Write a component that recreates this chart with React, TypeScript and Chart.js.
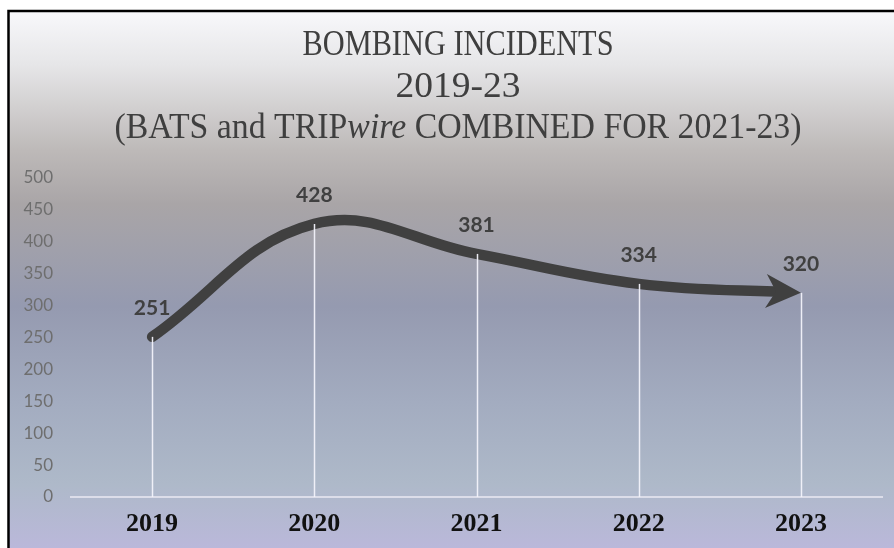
import React, { useEffect, useRef } from 'react';
import { Chart, registerables } from 'chart.js';

Chart.register(...registerables);

// ---- data ----
const categories: string[] = ['2019', '2020', '2021', '2022', '2023'];
const incidents: number[] = [251, 428, 381, 334, 320];
const yMin = 0;
const yMax = 500;
const yStep = 50;
const titleLine1 = 'BOMBING INCIDENTS';
const titleLine2 = '2019-23';
const titleLine3Parts: { text: string; italic: boolean }[] = [
  { text: '(BATS and TRIP', italic: false },
  { text: 'wire', italic: true },
  { text: ' COMBINED FOR 2021-23)', italic: false },
];

// ---- styles ----
const LINE_COLOR = '#404040';
const TITLE_COLOR = '#3f3f3f';
const TITLE_FONT_PX = 35;
const TITLE_FAMILY = '"Liberation Serif", serif';
const TITLE_CENTER_X = 458;
const TITLE_WIDTHS = [311, 125, 687];
const TITLE_BASELINES = [55, 96.5, 138];

const backgroundPlugin = {
  id: 'bgFrame',
  beforeDraw(chart: any) {
    const { ctx, width, height } = chart;
    ctx.save();
    ctx.fillStyle = '#ffffff';
    ctx.fillRect(0, 0, width, height);
    const g = ctx.createLinearGradient(0, 11, 0, height);
    g.addColorStop(0, '#f8f8fb');
    g.addColorStop(0.1, '#e6e6e8');
    g.addColorStop(0.26, '#bdb9b8');
    g.addColorStop(0.36, '#a9a5a7');
    g.addColorStop(0.55, '#959ab0');
    g.addColorStop(0.73, '#a3acc0');
    g.addColorStop(0.88, '#aeb9c9');
    g.addColorStop(1, '#bab8da');
    ctx.fillStyle = g;
    ctx.fillRect(8, 11, width - 8, height - 11);
    ctx.strokeStyle = '#000000';
    ctx.lineWidth = 2.5;
    ctx.beginPath();
    ctx.moveTo(8.5, height);
    ctx.lineTo(8.5, 11);
    ctx.lineTo(width, 11);
    ctx.stroke();
    ctx.restore();
  },
};

const titlePlugin = {
  id: 'richTitle',
  afterDraw(chart: any) {
    const { ctx } = chart;
    ctx.save();
    ctx.fillStyle = TITLE_COLOR;
    ctx.textBaseline = 'alphabetic';
    ctx.textAlign = 'left';
    const normalFont = `${TITLE_FONT_PX}px ${TITLE_FAMILY}`;
    const italicFont = `italic ${TITLE_FONT_PX}px ${TITLE_FAMILY}`;

    const drawCentered = (text: string, baseline: number, target: number) => {
      ctx.font = normalFont;
      const w = ctx.measureText(text).width;
      ctx.save();
      ctx.translate(TITLE_CENTER_X, baseline);
      ctx.scale(target / w, 1);
      ctx.fillText(text, -w / 2, 0);
      ctx.restore();
    };
    drawCentered(titleLine1, TITLE_BASELINES[0], TITLE_WIDTHS[0]);
    drawCentered(titleLine2, TITLE_BASELINES[1], TITLE_WIDTHS[1]);

    const widths = titleLine3Parts.map((p) => {
      ctx.font = p.italic ? italicFont : normalFont;
      return ctx.measureText(p.text).width;
    });
    const total = widths.reduce((a, b) => a + b, 0);
    ctx.save();
    ctx.translate(TITLE_CENTER_X, TITLE_BASELINES[2]);
    ctx.scale(TITLE_WIDTHS[2] / total, 1);
    let x = -total / 2;
    titleLine3Parts.forEach((p, i) => {
      ctx.font = p.italic ? italicFont : normalFont;
      ctx.fillText(p.text, x, 0);
      x += widths[i];
    });
    ctx.restore();
    ctx.restore();
  },
};

function arrowGeom(chart: any) {
  const meta = chart.getDatasetMeta(0);
  const pts = meta.data;
  const last = pts[pts.length - 1];
  const tipX = last.x;
  const tipY = last.y;
  let dx = tipX - (last.cp1x ?? pts[pts.length - 2].x);
  let dy = tipY - (last.cp1y ?? pts[pts.length - 2].y);
  const len = Math.hypot(dx, dy) || 1;
  dx /= len;
  dy /= len;
  return { tipX, tipY, dx, dy };
}

const overlayPlugin = {
  id: 'overlay',
  beforeDatasetDraw(chart: any) {
    const { ctx, width, height } = chart;
    const { tipX, tipY } = arrowGeom(chart);
    ctx.save();
    ctx.beginPath();
    ctx.rect(0, 0, width, height);
    ctx.rect(tipX - 14, tipY - 12, width - (tipX - 14), 24);
    ctx.clip('evenodd');
  },
  afterDatasetDraw(chart: any) {
    chart.ctx.restore();
  },
  afterDatasetsDraw(chart: any) {
    const { ctx, chartArea } = chart;
    const meta = chart.getDatasetMeta(0);
    ctx.save();
    // arrowhead
    const { tipX, tipY, dx, dy } = arrowGeom(chart);
    const nx = -dy;
    const ny = dx;
    const L = 35;
    const W = 17;
    const N = 25;
    ctx.fillStyle = LINE_COLOR;
    ctx.beginPath();
    ctx.moveTo(tipX, tipY);
    ctx.lineTo(tipX - dx * L + nx * W, tipY - dy * L + ny * W);
    ctx.lineTo(tipX - dx * N, tipY - dy * N);
    ctx.lineTo(tipX - dx * L - nx * W, tipY - dy * L - ny * W);
    ctx.closePath();
    ctx.fill();

    // drop lines
    ctx.strokeStyle = 'rgba(242,242,250,0.95)';
    ctx.lineWidth = 1.5;
    meta.data.forEach((p: any) => {
      ctx.beginPath();
      ctx.moveTo(Math.round(p.x) + 0.5, p.y);
      ctx.lineTo(Math.round(p.x) + 0.5, chartArea.bottom);
      ctx.stroke();
    });

    // data labels
    ctx.fillStyle = LINE_COLOR;
    ctx.font = 'bold 21px Lato, "Open Sans", sans-serif';
    ctx.textAlign = 'center';
    ctx.textBaseline = 'middle';
    meta.data.forEach((p: any, i: number) => {
      ctx.fillText(String(incidents[i]), p.x, p.y - 29);
    });
    ctx.restore();
  },
};

export default function App() {
  const canvasRef = useRef<HTMLCanvasElement | null>(null);

  useEffect(() => {
    const canvas = canvasRef.current;
    if (!canvas) return;
    const chart = new Chart(canvas, {
      type: 'line',
      data: {
        labels: categories,
        datasets: [
          {
            label: 'Bombing incidents',
            data: incidents,
            borderColor: LINE_COLOR,
            backgroundColor: LINE_COLOR,
            borderWidth: 10.5,
            tension: 0.4,
            pointRadius: 0,
            pointHoverRadius: 0,
            borderCapStyle: 'round',
            borderJoinStyle: 'round',
            fill: false,
          },
        ],
      },
      options: {
        animation: false,
        responsive: false,
        maintainAspectRatio: false,
        events: [],
        layout: { padding: { top: 178, right: 12, bottom: 0, left: 0 } },
        plugins: {
          legend: { display: false },
          title: { display: false },
          tooltip: { enabled: false },
        },
        scales: {
          x: {
            type: 'category',
            offset: true,
            grid: { display: false, drawTicks: false },
            border: { display: true, color: '#dcdde9', width: 2 },
            ticks: {
              color: '#111111',
              font: { family: '"Liberation Serif", serif', size: 26, weight: 'bold' },
              padding: 12,
            },
            afterFit: (s: any) => {
              s.height = 51;
            },
          },
          y: {
            min: yMin,
            max: yMax,
            grid: { display: false, drawTicks: false },
            border: { display: false },
            ticks: {
              stepSize: yStep,
              color: '#6e6e6e',
              font: { family: 'Lato, "Open Sans", sans-serif', size: 17 },
              padding: 18,
            },
            afterFit: (s: any) => {
              s.width = 71;
            },
          },
        },
      },
      plugins: [backgroundPlugin, titlePlugin, overlayPlugin],
    } as any);
    return () => chart.destroy();
  }, []);

  return (
    <div style={{ position: 'fixed', left: 0, top: 0, width: 894, height: 548 }}>
      <canvas ref={canvasRef} width={894} height={548} style={{ width: 894, height: 548, display: 'block' }} />
    </div>
  );
}
